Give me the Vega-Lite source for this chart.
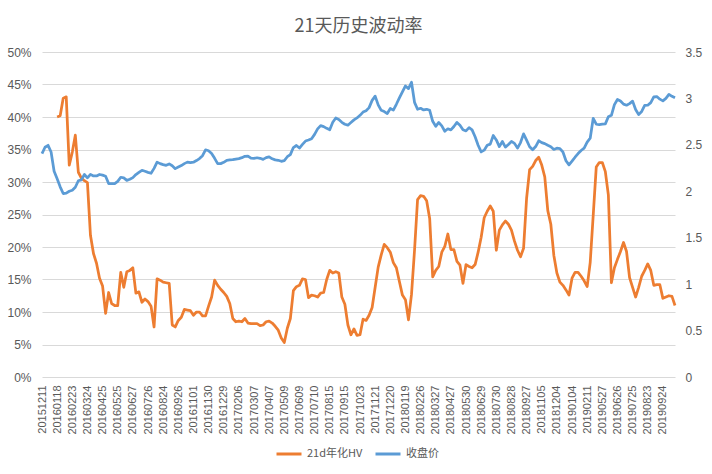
{
"$schema": "https://vega.github.io/schema/vega-lite/v6.json",
"width": 633,
"height": 325,
"autosize": {"type": "none"},
"padding": {"left": 42, "top": 52, "right": 37, "bottom": 97},
"background": "white",
"title": {"text": "21天历史波动率", "fontSize": 18, "font": "Noto Sans CJK SC", "fontWeight": "normal", "color": "#595959", "offset": 10, "anchor": "middle"},
"config": {"view": {"stroke": null}, "font": "Liberation Sans"},
"data": {"values": [
{"d":"20151211","hv":null,"px":2.406},
{"d":"20151218","hv":null,"px":2.474},
{"d":"20151225","hv":null,"px":2.495},
{"d":"20160104","hv":null,"px":2.423},
{"d":"20160111","hv":null,"px":2.215},
{"d":"20160118","hv":0.400,"px":2.134},
{"d":"20160125","hv":0.402,"px":2.048},
{"d":"20160201","hv":0.429,"px":1.976},
{"d":"20160205","hv":0.431,"px":1.980},
{"d":"20160216","hv":0.326,"px":2.000},
{"d":"20160223","hv":0.346,"px":2.011},
{"d":"20160229","hv":0.372,"px":2.043},
{"d":"20160304","hv":0.315,"px":2.113},
{"d":"20160311","hv":0.306,"px":2.123},
{"d":"20160318","hv":0.302,"px":2.181},
{"d":"20160324","hv":0.299,"px":2.145},
{"d":"20160331","hv":0.218,"px":2.182},
{"d":"20160408","hv":0.190,"px":2.165},
{"d":"20160413","hv":0.175,"px":2.165},
{"d":"20160420","hv":0.152,"px":2.181},
{"d":"20160425","hv":0.140,"px":2.174},
{"d":"20160429","hv":0.098,"px":2.162},
{"d":"20160506","hv":0.130,"px":2.083},
{"d":"20160512","hv":0.113,"px":2.083},
{"d":"20160518","hv":0.110,"px":2.083},
{"d":"20160525","hv":0.110,"px":2.107},
{"d":"20160601","hv":0.161,"px":2.151},
{"d":"20160607","hv":0.138,"px":2.145},
{"d":"20160615","hv":0.162,"px":2.118},
{"d":"20160621","hv":0.164,"px":2.129},
{"d":"20160627","hv":0.168,"px":2.147},
{"d":"20160701","hv":0.129,"px":2.180},
{"d":"20160707","hv":0.131,"px":2.204},
{"d":"20160713","hv":0.115,"px":2.226},
{"d":"20160720","hv":0.120,"px":2.215},
{"d":"20160726","hv":0.116,"px":2.204},
{"d":"20160801","hv":0.109,"px":2.194},
{"d":"20160805","hv":0.077,"px":2.247},
{"d":"20160811","hv":0.151,"px":2.314},
{"d":"20160818","hv":0.149,"px":2.298},
{"d":"20160824","hv":0.146,"px":2.287},
{"d":"20160830","hv":0.145,"px":2.280},
{"d":"20160905","hv":0.144,"px":2.295},
{"d":"20160912","hv":0.080,"px":2.275},
{"d":"20160920","hv":0.077,"px":2.244},
{"d":"20160926","hv":0.087,"px":2.261},
{"d":"20160930","hv":0.092,"px":2.277},
{"d":"20161012","hv":0.104,"px":2.298},
{"d":"20161019","hv":0.103,"px":2.314},
{"d":"20161026","hv":0.102,"px":2.308},
{"d":"20161101","hv":0.095,"px":2.313},
{"d":"20161107","hv":0.100,"px":2.331},
{"d":"20161111","hv":0.100,"px":2.352},
{"d":"20161117","hv":0.094,"px":2.383},
{"d":"20161124","hv":0.094,"px":2.447},
{"d":"20161130","hv":0.109,"px":2.437},
{"d":"20161206","hv":0.123,"px":2.407},
{"d":"20161212","hv":0.149,"px":2.355},
{"d":"20161216","hv":0.141,"px":2.298},
{"d":"20161222","hv":0.135,"px":2.298},
{"d":"20161229","hv":0.130,"px":2.312},
{"d":"20170105","hv":0.124,"px":2.334},
{"d":"20170112","hv":0.113,"px":2.337},
{"d":"20170119","hv":0.090,"px":2.340},
{"d":"20170125","hv":0.085,"px":2.347},
{"d":"20170206","hv":0.086,"px":2.352},
{"d":"20170210","hv":0.085,"px":2.362},
{"d":"20170216","hv":0.090,"px":2.377},
{"d":"20170222","hv":0.083,"px":2.379},
{"d":"20170301","hv":0.082,"px":2.357},
{"d":"20170307","hv":0.082,"px":2.355},
{"d":"20170313","hv":0.082,"px":2.361},
{"d":"20170317","hv":0.079,"px":2.355},
{"d":"20170323","hv":0.080,"px":2.344},
{"d":"20170330","hv":0.085,"px":2.362},
{"d":"20170407","hv":0.086,"px":2.371},
{"d":"20170413","hv":0.083,"px":2.350},
{"d":"20170419","hv":0.078,"px":2.338},
{"d":"20170425","hv":0.072,"px":2.334},
{"d":"20170503","hv":0.060,"px":2.323},
{"d":"20170509","hv":0.053,"px":2.331},
{"d":"20170515","hv":0.075,"px":2.372},
{"d":"20170519","hv":0.090,"px":2.395},
{"d":"20170526","hv":0.133,"px":2.471},
{"d":"20170602","hv":0.139,"px":2.493},
{"d":"20170609","hv":0.141,"px":2.466},
{"d":"20170615","hv":0.151,"px":2.505},
{"d":"20170621","hv":0.150,"px":2.541},
{"d":"20170627","hv":0.122,"px":2.552},
{"d":"20170703","hv":0.126,"px":2.566},
{"d":"20170710","hv":0.125,"px":2.613},
{"d":"20170717","hv":0.123,"px":2.672},
{"d":"20170724","hv":0.129,"px":2.707},
{"d":"20170801","hv":0.130,"px":2.697},
{"d":"20170808","hv":0.150,"px":2.678},
{"d":"20170815","hv":0.164,"px":2.662},
{"d":"20170821","hv":0.160,"px":2.743},
{"d":"20170828","hv":0.162,"px":2.789},
{"d":"20170901","hv":0.160,"px":2.773},
{"d":"20170908","hv":0.123,"px":2.743},
{"d":"20170915","hv":0.112,"px":2.722},
{"d":"20170921","hv":0.080,"px":2.712},
{"d":"20170927","hv":0.065,"px":2.740},
{"d":"20171011","hv":0.074,"px":2.769},
{"d":"20171017","hv":0.064,"px":2.790},
{"d":"20171023","hv":0.065,"px":2.818},
{"d":"20171027","hv":0.089,"px":2.853},
{"d":"20171102","hv":0.087,"px":2.868},
{"d":"20171108","hv":0.095,"px":2.901},
{"d":"20171115","hv":0.107,"px":2.979},
{"d":"20171121","hv":0.138,"px":3.025},
{"d":"20171127","hv":0.169,"px":2.931},
{"d":"20171201","hv":0.188,"px":2.872},
{"d":"20171207","hv":0.204,"px":2.859},
{"d":"20171214","hv":0.199,"px":2.837},
{"d":"20171220","hv":0.192,"px":2.891},
{"d":"20171226","hv":0.176,"px":2.874},
{"d":"20180102","hv":0.168,"px":2.937},
{"d":"20180108","hv":0.147,"px":3.005},
{"d":"20180112","hv":0.126,"px":3.070},
{"d":"20180119","hv":0.119,"px":3.134},
{"d":"20180125","hv":0.088,"px":3.106},
{"d":"20180131","hv":0.127,"px":3.174},
{"d":"20180206","hv":0.195,"px":2.958},
{"d":"20180212","hv":0.273,"px":2.883},
{"d":"20180226","hv":0.279,"px":2.894},
{"d":"20180302","hv":0.278,"px":2.876},
{"d":"20180308","hv":0.271,"px":2.883},
{"d":"20180314","hv":0.244,"px":2.872},
{"d":"20180321","hv":0.154,"px":2.754},
{"d":"20180327","hv":0.164,"px":2.700},
{"d":"20180402","hv":0.170,"px":2.741},
{"d":"20180410","hv":0.192,"px":2.705},
{"d":"20180416","hv":0.201,"px":2.647},
{"d":"20180420","hv":0.220,"px":2.673},
{"d":"20180427","hv":0.196,"px":2.661},
{"d":"20180507","hv":0.196,"px":2.698},
{"d":"20180511","hv":0.178,"px":2.742},
{"d":"20180517","hv":0.172,"px":2.711},
{"d":"20180524","hv":0.144,"px":2.662},
{"d":"20180530","hv":0.173,"px":2.650},
{"d":"20180605","hv":0.170,"px":2.685},
{"d":"20180611","hv":0.168,"px":2.661},
{"d":"20180615","hv":0.173,"px":2.587},
{"d":"20180622","hv":0.192,"px":2.496},
{"d":"20180629","hv":0.215,"px":2.424},
{"d":"20180706","hv":0.245,"px":2.443},
{"d":"20180712","hv":0.255,"px":2.495},
{"d":"20180718","hv":0.263,"px":2.508},
{"d":"20180724","hv":0.255,"px":2.601},
{"d":"20180730","hv":0.195,"px":2.553},
{"d":"20180803","hv":0.226,"px":2.481},
{"d":"20180809","hv":0.234,"px":2.536},
{"d":"20180815","hv":0.240,"px":2.476},
{"d":"20180821","hv":0.235,"px":2.504},
{"d":"20180828","hv":0.226,"px":2.537},
{"d":"20180903","hv":0.209,"px":2.516},
{"d":"20180907","hv":0.195,"px":2.465},
{"d":"20180913","hv":0.185,"px":2.525},
{"d":"20180920","hv":0.198,"px":2.618},
{"d":"20180927","hv":0.275,"px":2.550},
{"d":"20181012","hv":0.319,"px":2.480},
{"d":"20181018","hv":0.324,"px":2.447},
{"d":"20181024","hv":0.333,"px":2.482},
{"d":"20181030","hv":0.338,"px":2.544},
{"d":"20181105","hv":0.326,"px":2.524},
{"d":"20181109","hv":0.308,"px":2.513},
{"d":"20181115","hv":0.256,"px":2.495},
{"d":"20181121","hv":0.235,"px":2.480},
{"d":"20181128","hv":0.187,"px":2.451},
{"d":"20181204","hv":0.160,"px":2.464},
{"d":"20181210","hv":0.146,"px":2.459},
{"d":"20181214","hv":0.141,"px":2.423},
{"d":"20181220","hv":0.134,"px":2.329},
{"d":"20181227","hv":0.126,"px":2.284},
{"d":"20190104","hv":0.152,"px":2.324},
{"d":"20190110","hv":0.161,"px":2.367},
{"d":"20190116","hv":0.161,"px":2.406},
{"d":"20190122","hv":0.155,"px":2.439},
{"d":"20190128","hv":0.148,"px":2.465},
{"d":"20190211","hv":0.139,"px":2.530},
{"d":"20190215","hv":0.176,"px":2.572},
{"d":"20190221","hv":0.249,"px":2.786},
{"d":"20190227","hv":0.323,"px":2.722},
{"d":"20190520","hv":0.330,"px":2.718},
{"d":"20190527","hv":0.330,"px":2.723},
{"d":"20190531","hv":0.316,"px":2.726},
{"d":"20190606","hv":0.280,"px":2.802},
{"d":"20190613","hv":0.145,"px":2.818},
{"d":"20190619","hv":0.168,"px":2.933},
{"d":"20190626","hv":0.181,"px":2.989},
{"d":"20190702","hv":0.193,"px":2.973},
{"d":"20190708","hv":0.207,"px":2.939},
{"d":"20190712","hv":0.193,"px":2.927},
{"d":"20190719","hv":0.153,"px":2.944},
{"d":"20190725","hv":0.138,"px":2.971},
{"d":"20190731","hv":0.123,"px":2.881},
{"d":"20190806","hv":0.138,"px":2.826},
{"d":"20190812","hv":0.155,"px":2.860},
{"d":"20190816","hv":0.164,"px":2.926},
{"d":"20190823","hv":0.174,"px":2.927},
{"d":"20190829","hv":0.164,"px":2.955},
{"d":"20190904","hv":0.141,"px":3.016},
{"d":"20190910","hv":0.142,"px":3.020},
{"d":"20190918","hv":0.142,"px":2.992},
{"d":"20190924","hv":0.121,"px":2.974},
{"d":"20190925","hv":0.123,"px":3.001},
{"d":"20190926","hv":0.125,"px":3.044},
{"d":"20190927","hv":0.124,"px":3.023},
{"d":"20190930","hv":0.110,"px":3.007}
]},
"encoding": {
  "x": {"field": "d", "type": "ordinal", "scale": {"type": "point", "padding": 0},
    "axis": {"values": ["20151211","20160118","20160223","20160324","20160425","20160525","20160627","20160726","20160824","20160926","20161101","20161130","20161229","20170206","20170307","20170407","20170509","20170609","20170710","20170815","20170915","20171023","20171121","20171220","20180119","20180226","20180327","20180427","20180530","20180629","20180730","20180828","20180927","20181105","20181204","20190104","20190211","20190527","20190626","20190725","20190823","20190924"],
      "labelAngle": -90, "title": null, "ticks": false, "tickSize": 0, "domain": false, "grid": false, "labelPadding": 8, "labelFontSize": 11, "labelColor": "#595959", "labelOverlap": false, "labelFont": "Liberation Sans"}}
},
"layer": [
  {"mark": {"type": "line", "strokeWidth": 2.75, "strokeJoin": "round"},
   "encoding": {
     "y": {"field": "hv", "type": "quantitative", "scale": {"domain": [0, 0.5], "nice": false, "zero": true},
       "axis": {"values": [0,0.05,0.1,0.15,0.2,0.25,0.3,0.35,0.4,0.45,0.5], "format": ".0%", "title": null, "grid": true, "gridColor": "#D9D9D9", "gridWidth": 1, "domain": false, "ticks": false, "tickSize": 0, "labelPadding": 11, "labelFontSize": 12, "labelColor": "#595959"}},
     "color": {"datum": "21d年化HV", "type": "nominal",
       "scale": {"domain": ["21d年化HV", "收盘价"], "range": ["#ED7D31", "#5B9BD5"]},
       "legend": {"orient": "none", "legendX": 233, "legendY": 388, "direction": "horizontal", "title": null, "symbolType": "stroke", "symbolSize": 625, "symbolStrokeWidth": 3, "labelFontSize": 11, "labelColor": "#595959", "labelFont": "Noto Sans CJK SC", "columnPadding": 6, "labelOffset": 4}}
   }},
  {"mark": {"type": "line", "strokeWidth": 2.75, "strokeJoin": "round"},
   "encoding": {
     "y": {"field": "px", "type": "quantitative", "scale": {"domain": [0, 3.5], "nice": false, "zero": true},
       "axis": {"orient": "right", "values": [0,0.5,1,1.5,2,2.5,3,3.5], "format": "~g", "title": null, "grid": false, "domain": false, "ticks": false, "tickSize": 0, "labelPadding": 10, "labelFontSize": 12, "labelColor": "#595959"}},
     "color": {"datum": "收盘价", "type": "nominal"}
   }}
],
"resolve": {"scale": {"y": "independent"}}
}
